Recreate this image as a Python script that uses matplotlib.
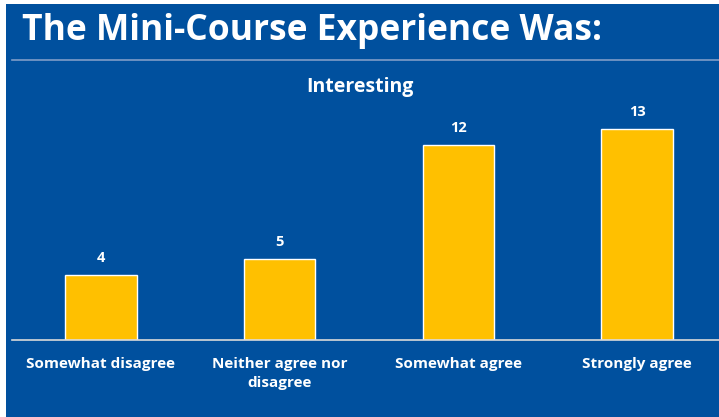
import matplotlib.pyplot as plt
from matplotlib.patches import Rectangle
import numpy as np

categories = ["Somewhat disagree", "Neither agree nor\ndisagree", "Somewhat agree", "Strongly agree"]
counts = [4, 5, 12, 13]

title = "The Mini-Course Experience Was:"
subtitle = "Interesting"

bg_blue = "#00509E"
bar_gold = "#FFC000"

plt.rcParams['font.family'] = ['Open Sans', 'DejaVu Sans']

W, H = 719, 417
fig = plt.figure(figsize=(W / 100, H / 100), dpi=100)
fig.patch.set_facecolor("white")

# Blue slide background (thin white border top/left as in the source screenshot).
fig.patches.append(Rectangle((6 / W, 0), 1, (H - 4) / H, transform=fig.transFigure,
                             facecolor=bg_blue, edgecolor="none", zorder=-5))

# Title and separator line.
fig.text(22 / W, 1 - 31 / H, title, color="white", fontsize=25.5, fontweight="bold",
         va="center", ha="left")
fig.add_artist(plt.Line2D([12 / W, 1], [1 - 60 / H, 1 - 60 / H], transform=fig.transFigure,
                          color="#7F9CC8", linewidth=1.2))

# Chart area: baseline at y=340 px, slots 178.7 px wide.
slot = 178.7
left_px = 101 - slot / 2
ax = fig.add_axes([left_px / W, (H - 340) / H, 4 * slot / W, 270 / H])
ax.set_facecolor("none")
ax.set_zorder(2)

x = np.arange(len(categories))
bars = ax.bar(x, counts, width=0.4, color=bar_gold, edgecolor="white", linewidth=1.0, zorder=2)
ax.set_xlim(-0.5, len(categories) - 0.5)
ax.set_ylim(0, 270 / (211 / 13))

for b, v in zip(bars, counts):
    ax.text(b.get_x() + b.get_width() / 2, v + 0.6, str(v), ha="center", va="bottom",
            color="white", fontsize=10.5, fontweight="bold")

ax.set_xticks(x)
ax.set_xticklabels(categories, color="white", fontsize=11, fontweight="bold", linespacing=1.5)
ax.tick_params(axis="x", length=0, pad=12)
ax.set_yticks([])
for s in ["top", "right", "left"]:
    ax.spines[s].set_visible(False)
ax.spines["bottom"].set_color("#D9D9D9")
ax.spines["bottom"].set_linewidth(1.2)

fig.text(360 / W, 1 - 87 / H, subtitle, color="white", fontsize=14, fontweight="bold",
         ha="center", va="center")

fig.savefig("out.png", dpi=100)
